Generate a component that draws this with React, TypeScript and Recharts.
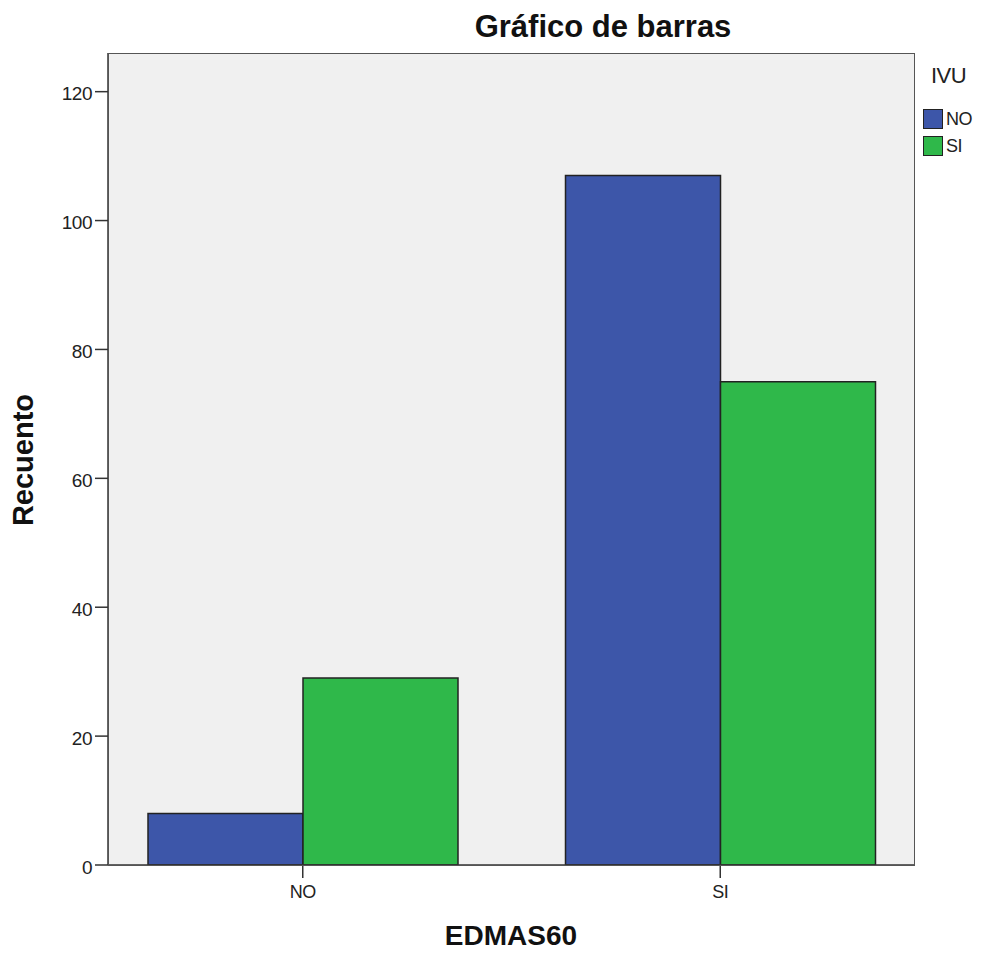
import React from 'react';
import { BarChart, Bar, XAxis, YAxis, CartesianGrid } from 'recharts';

const categories = ['NO', 'SI'];
const ivuNo = [8, 107];
const ivuSi = [29, 75];
const yTicks = [0, 20, 40, 60, 80, 100, 120];

const series = [
  { key: 'NO', label: 'NO', color: '#3d56a9' },
  { key: 'SI', label: 'SI', color: '#2fb84a' },
];

const data = categories.map((c, i) => ({ name: c, NO: ivuNo[i], SI: ivuSi[i] }));

const font = 'Arial, "Liberation Sans", sans-serif';

export default function App() {
  return (
    <div style={{ position: 'absolute', left: 0, top: 0, width: 982, height: 956, background: '#fff', fontFamily: font }}>
      <BarChart
        width={982}
        height={956}
        data={data}
        margin={{ top: 53, right: 67, bottom: 51, left: 48 }}
        barGap={0}
        barSize={155}
      >
        <CartesianGrid horizontal={false} vertical={false} fill="#f0f0f0" />
        <XAxis
          dataKey="name"
          height={40}
          padding={{ left: -14, right: -14 }}
          axisLine={{ stroke: '#333', strokeWidth: 1.5 }}
          tickLine={{ stroke: '#333', strokeWidth: 1.5 }}
          tickSize={13}
          tickMargin={7}
          tick={{ fill: '#222', fontSize: 18, fontFamily: font, letterSpacing: -0.5 }}
        />
        <YAxis
          width={60}
          domain={[0, 126]}
          ticks={yTicks}
          allowDataOverflow
          axisLine={{ stroke: '#333', strokeWidth: 1.5 }}
          tickLine={{ stroke: '#333', strokeWidth: 1.5 }}
          tickSize={13}
          tickMargin={3}
          tick={{ fill: '#222', fontSize: 19, fontFamily: font, letterSpacing: -0.5, dy: 2 }}
        />
        {series.map((s) => (
          <Bar key={s.key} dataKey={s.key} fill={s.color} stroke="#222" strokeWidth={1.5} isAnimationActive={false} />
        ))}
      </BarChart>

      {/* plot frame */}
      <div style={{ position: 'absolute', left: 108, top: 53, width: 807, height: 813, border: '1.5px solid #555', boxSizing: 'border-box', pointerEvents: 'none' }} />

      <div style={{ position: 'absolute', left: 403, top: 9, width: 400, textAlign: 'center', fontSize: 31, fontWeight: 'bold', color: '#111' }}>
        Gráfico de barras
      </div>
      <div style={{ position: 'absolute', left: 311, top: 920, width: 400, textAlign: 'center', fontSize: 28, fontWeight: 'bold', color: '#111' }}>
        EDMAS60
      </div>
      <div style={{ position: 'absolute', left: 23, top: 460, width: 0, height: 0 }}>
        <div style={{ position: 'absolute', left: -150, top: -17, width: 300, height: 34, lineHeight: '34px', textAlign: 'center', fontSize: 29, fontWeight: 'bold', color: '#111', transform: 'rotate(-90deg)' }}>
          Recuento
        </div>
      </div>

      {/* legend */}
      <div style={{ position: 'absolute', left: 931, top: 63, fontSize: 22, color: '#222', letterSpacing: -0.5 }}>IVU</div>
      {series.map((s, i) => (
        <div key={s.key} style={{ position: 'absolute', left: 923, top: 109 + i * 27, height: 20, display: 'flex', alignItems: 'center' }}>
          <div style={{ width: 20, height: 20, background: s.color, border: '1.5px solid #222', boxSizing: 'border-box' }} />
          <span style={{ marginLeft: 3, fontSize: 18, color: '#222', letterSpacing: -0.5 }}>{s.label}</span>
        </div>
      ))}
    </div>
  );
}
